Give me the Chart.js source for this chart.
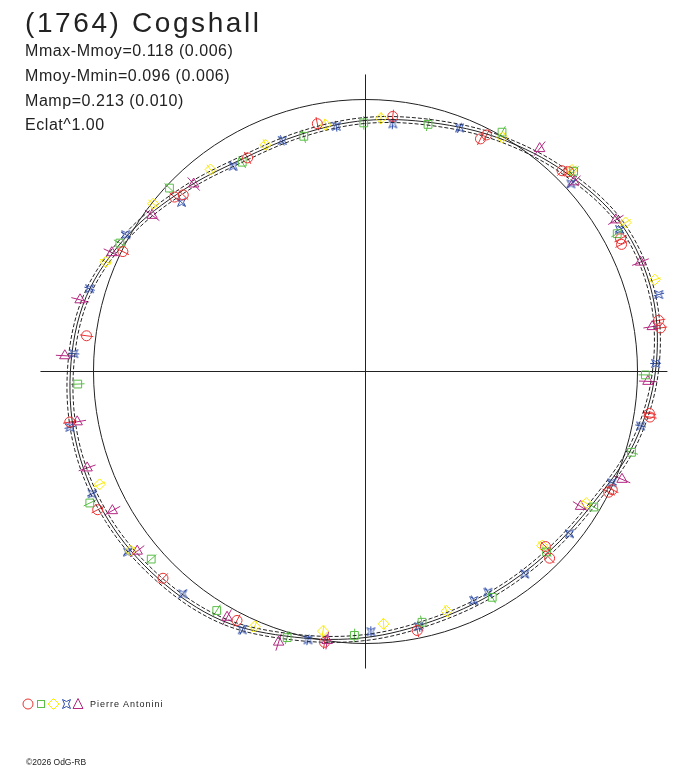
<!DOCTYPE html>
<html>
<head>
<meta charset="utf-8">
<script src="https://cdn.jsdelivr.net/npm/chart.js@4.4.1/dist/chart.umd.min.js"></script>
<style>
  body { margin: 0; background: #fff; }
  #wrap { position: relative; width: 688px; height: 768px; font-family: "Liberation Sans", Arial, sans-serif; color: #222; }
  #wrap canvas { position: absolute; left: 0; top: 0; }
  .txt { position: absolute; left: 25px; white-space: nowrap; }
  #title { top: 8.5px; font-size: 28px; line-height: 28px; letter-spacing: 2.6px; }
  .stat { font-size: 16px; line-height: 16px; letter-spacing: 0.55px; }
  #legend { position: absolute; left: 22px; top: 698px; height: 12px; display: flex; align-items: center; }
  #legend span { font-size: 9px; letter-spacing: 1px; margin-left: 6px; }
  #copy { position: absolute; left: 26px; top: 758px; font-size: 8.5px; line-height: 9px; }
</style>
</head>
<body>
<div id="wrap">
  <canvas id="polar" width="688" height="768"></canvas>
  <div class="txt" id="title">(1764) Cogshall</div>
  <div class="txt stat" style="top:43px">Mmax-Mmoy=0.118 (0.006)</div>
  <div class="txt stat" style="top:68px">Mmoy-Mmin=0.096 (0.006)</div>
  <div class="txt stat" style="top:93px">Mamp=0.213 (0.010)</div>
  <div class="txt stat" style="top:117px">Eclat^1.00</div>
  <div id="legend">
    <svg width="62" height="12" viewBox="0 0 62 12">
      <circle cx="6" cy="6" r="5" fill="none" stroke="rgb(235,50,50)"/>
      <rect x="15.5" y="2.5" width="7" height="7" fill="none" stroke="rgb(90,190,70)"/>
      <path d="M31.5 0.5 L37 6 L31.5 11.5 L26 6 Z" fill="none" stroke="rgb(250,235,0)"/>
      <path d="M40.5 1.5 L44.5 3.5 L48.5 1.5 L46.5 6 L48.5 10.5 L44.5 8.5 L40.5 10.5 L42.5 6 Z" fill="none" stroke="rgb(50,80,170)"/>
      <path d="M56 0.5 L61 10.5 L51 10.5 Z" fill="none" stroke="rgb(180,40,130)"/>
    </svg>
    <span>Pierre Antonini</span>
  </div>
  <div id="copy">©2026 OdG-RB</div>
</div>
<script>
// polar light curve: angle = rotation phase (deg, counter-clockwise from +x),
// radius = relative flux (1 = mean brightness, the reference circle)

// fitted curve
const fitAngle = [0, 15, 30, 45, 60, 75, 90, 105, 120, 135, 150, 165,
                  180, 195, 210, 225, 240, 255, 270, 285, 300, 315, 330, 345];
const fitFlux = [1.066, 1.092, 1.085, 1.037, 0.989, 0.947, 0.923, 0.904, 0.903, 0.945, 1.007, 1.063,
                 1.085, 1.096, 1.092, 1.077, 1.057, 1.011, 0.978, 0.950, 0.941, 0.945, 0.967, 1.022];
const fitErr = 0.011;
const refRadius = 1;

// axis lines
const axisX = [-1.195, 1.110];
const axisY = [-1.092, 1.092];

// observations, one list per session
const redAngle = [101.0, 118.9, 135.9, 137.6, 153.7, 172.7, 189.7, 207.3, 225.6, 242.7, 261.4, 281.3, 315.8, 314.6,
                  333.6, 334.4, 351.6, 350.9, 9.9, 8.4, 27.5, 26.4, 45.6, 44.5, 63.7, 62.9, 83.9];
const redFlux = [0.928, 0.897, 0.933, 0.951, 0.995, 1.034, 1.103, 1.108, 1.064, 1.030, 1.007, 0.971, 0.923, 0.964,
                 0.998, 1.006, 1.055, 1.059, 1.094, 1.096, 1.057, 1.051, 1.033, 1.048, 0.954, 0.977, 0.943];

const greenAngle = [90.4, 104.7, 120.5, 136.9, 152.4, 182.5, 205.5, 221.2, 238.1, 253.6, 267.6, 282.7, 299.3, 315.1,
                    329.3, 343.1, 359.3, 28.7, 43.9, 60.3, 75.8];
const greenFlux = [0.914, 0.894, 0.893, 0.987, 1.019, 1.059, 1.123, 1.047, 1.035, 1.020, 0.971, 0.945, 0.952, 0.940,
                   0.976, 1.022, 1.029, 1.055, 1.062, 1.013, 0.937];

const yellowAngle = [86.5, 99.2, 113.8, 127.5, 141.7, 157.1, 203.0, 217.3, 246.5, 260.7, 274.1, 288.7, 315.4, 329.2,
                     17.6, 29.8, 44.3, 59.7];
const yellowFlux = [0.933, 0.919, 0.911, 0.936, 0.995, 1.037, 1.062, 1.086, 1.022, 0.967, 0.930, 0.930, 0.912, 0.945,
                    1.116, 1.102, 1.061, 0.997];

const blueAngle = [83.7, 68.9, 96.8, 109.8, 122.8, 137.4, 150.3, 163.3, 176.5, 190.7, 204.1, 217.2, 230.6, 244.5,
                   257.9, 271.2, 281.8, 295.3, 299.0, 308.2, 321.5, 335.7, 348.8, 1.6, 14.7, 29.2, 42.4];
const blueFlux = [0.916, 0.960, 0.908, 0.903, 0.898, 0.919, 1.015, 1.059, 1.074, 1.106, 1.101, 1.098, 1.058, 1.052,
                  1.009, 0.957, 0.958, 0.931, 0.928, 0.947, 0.958, 0.994, 1.031, 1.067, 1.115, 1.070, 1.023];

const magentaAngle = [132.5, 143.8, 154.9, 165.9, 177.0, 189.9, 199.1, 208.8, 218.2, 240.6, 252.2, 261.9,
                      327.9, 337.2, 358.0, 8.9, 21.7, 31.2, 42.3, 52.0];
const magentaFlux = [0.935, 0.972, 1.030, 1.082, 1.107, 1.076, 1.083, 1.062, 1.068, 1.037, 1.045, 0.999,
                     0.933, 1.023, 1.039, 1.067, 1.088, 1.076, 1.036, 1.040];

// typical error of each session (relative flux)
const sessionErr = [0.025, 0.025, 0.022, 0.02, 0.033];

window.onload = function() {

    const deg = Math.PI / 180;

    function toXY(angles, flux) {
        return angles.map((a, i) => ({ x: flux[i] * Math.cos(a * deg), y: flux[i] * Math.sin(a * deg) }));
    }

    // closed curve: one extra point on each side so the spline is smooth at 0 deg
    const n = fitAngle.length;
    function loop(offset) {
        const idx = [n - 1, ...fitAngle.keys(), 0, 1];
        return idx.map(i => {
            const r = fitFlux[i] + offset;
            return { x: r * Math.cos(fitAngle[i] * deg), y: r * Math.sin(fitAngle[i] * deg) };
        });
    }
    const hideEnds = {
        borderColor: c => (c.p0DataIndex === 0 || c.p0DataIndex === n + 1) ? 'rgba(0,0,0,0)' : undefined
    };

    function starIcon(color) {
        const c = document.createElement('canvas');
        c.width = 11; c.height = 11;
        const g = c.getContext('2d');
        g.strokeStyle = color;
        g.lineWidth = 1;
        g.beginPath();
        g.moveTo(1.5, 1.5); g.lineTo(5.5, 3.5); g.lineTo(9.5, 1.5); g.lineTo(7.5, 5.5);
        g.lineTo(9.5, 9.5); g.lineTo(5.5, 7.5); g.lineTo(1.5, 9.5); g.lineTo(3.5, 5.5);
        g.closePath();
        g.stroke();
        return c;
    }

    const red = 'rgb(235,50,50)', green = 'rgb(90,190,70)', yellow = 'rgb(250,235,0)',
          blue = 'rgb(50,80,170)', magenta = 'rgb(180,40,130)';

    const sessions = [
        { angle: redAngle, flux: redFlux, color: red, style: 'circle', size: 5 },
        { angle: greenAngle, flux: greenFlux, color: green, style: 'rect', size: 5.5 },
        { angle: yellowAngle, flux: yellowFlux, color: yellow, style: 'rectRot', size: 5.5 },
        { angle: blueAngle, flux: blueFlux, color: blue, style: starIcon(blue), size: 5 },
        { angle: magentaAngle, flux: magentaFlux, color: magenta, style: 'triangle', size: 6 }
    ];

    // reference circle and radial error bars, drawn under the datasets
    const polarExtras = {
        id: 'polarExtras',
        beforeDatasetsDraw(chart) {
            const { ctx, scales: { x, y } } = chart;
            const cx = x.getPixelForValue(0), cy = y.getPixelForValue(0);
            ctx.save();
            ctx.lineWidth = 1;
            ctx.strokeStyle = '#222';
            ctx.beginPath();
            ctx.arc(cx, cy, x.getPixelForValue(refRadius) - cx, 0, 2 * Math.PI);
            ctx.stroke();
            sessions.forEach((s, k) => {
                ctx.strokeStyle = s.color;
                s.angle.forEach((a, i) => {
                    const c = Math.cos(a * deg), sn = Math.sin(a * deg);
                    const r0 = s.flux[i] - sessionErr[k], r1 = s.flux[i] + sessionErr[k];
                    ctx.beginPath();
                    ctx.moveTo(x.getPixelForValue(r0 * c), y.getPixelForValue(r0 * sn));
                    ctx.lineTo(x.getPixelForValue(r1 * c), y.getPixelForValue(r1 * sn));
                    ctx.stroke();
                });
            });
            ctx.restore();
        }
    };

    const markerSets = sessions.map(s => ({
        data: toXY(s.angle, s.flux),
        showLine: false,
        pointStyle: s.style,
        pointRadius: s.size,
        pointBorderWidth: 1,
        pointBorderColor: s.color,
        pointBackgroundColor: 'rgba(0,0,0,0)'
    }));

    const lineStyle = { showLine: true, pointRadius: 0, borderWidth: 1, borderColor: '#222', fill: false };

    new Chart(document.getElementById('polar'), {
        type: 'scatter',
        data: {
            datasets: [
                ...markerSets,
                { ...lineStyle, data: loop(0), tension: 0.34, segment: hideEnds },
                { ...lineStyle, data: loop(fitErr), tension: 0.34, borderDash: [4, 2], segment: hideEnds },
                { ...lineStyle, data: loop(-fitErr), tension: 0.34, borderDash: [4, 2], segment: hideEnds },
                { ...lineStyle, data: [{ x: axisX[0], y: 0 }, { x: axisX[1], y: 0 }] },
                { ...lineStyle, data: [{ x: 0, y: axisY[0] }, { x: 0, y: axisY[1] }] }
            ]
        },
        options: {
            responsive: false,
            animation: false,
            layout: { padding: 0, autoPadding: false },
            plugins: { legend: { display: false }, tooltip: { enabled: false } },
            scales: {
                x: { type: 'linear', display: false, min: -1.34375, max: 1.18566 },
                y: { type: 'linear', display: false, min: -1.45772, max: 1.36581 }
            }
        },
        plugins: [polarExtras]
    });
};
</script>
</body>
</html>
